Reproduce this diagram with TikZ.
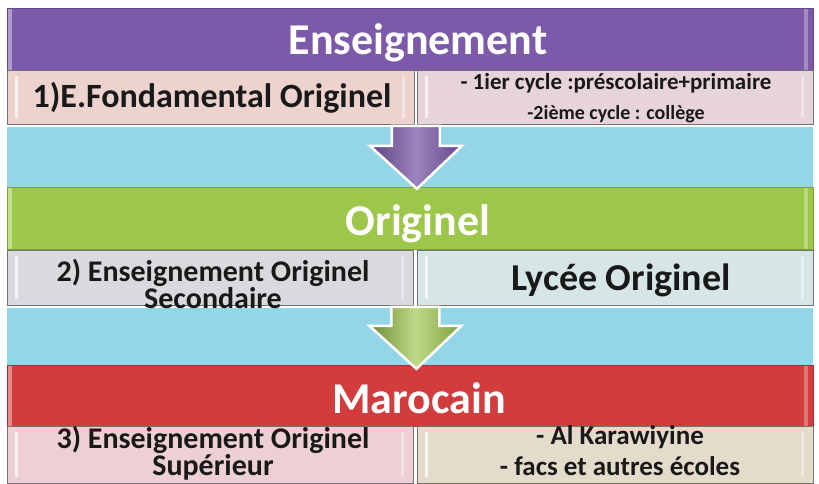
\documentclass[tikz,border=0pt]{standalone}
\usepackage{fontspec}
\setmainfont{Carlito}
\usetikzlibrary{calc}

\definecolor{ensPurple}{HTML}{7C5AA9}
\definecolor{origGreen}{HTML}{9CC74A}
\definecolor{marRed}{HTML}{D23C3C}
\definecolor{skyBlue}{HTML}{94D6E8}
\definecolor{rowPink}{HTML}{EDD3CE}
\definecolor{rowLilac}{HTML}{E7D3DC}
\definecolor{rowGrey}{HTML}{DAD9DD}
\definecolor{rowMint}{HTML}{D6E6E6}
\definecolor{rowRose}{HTML}{ECD0D3}
\definecolor{rowSand}{HTML}{E4DCCB}

\begin{document}
\begin{tikzpicture}[
    x=1pt, y=-1pt,
    band/.style={
        rectangle,
        anchor=north west,
        inner sep=0pt,
        draw=#1!80!black,
        fill=#1,
        minimum width=806pt,
        minimum height=62pt,
        path picture={
            \fill[white,opacity=.4] (path picture bounding box.north west) rectangle ([xshift=5pt]path picture bounding box.south west);
            \fill[white,opacity=.3] ([xshift=-9pt]path picture bounding box.north east) rectangle ([xshift=-5pt]path picture bounding box.south east);
        }
    },
    cell/.style={
        rectangle,
        anchor=north west,
        inner sep=0pt,
        draw=black!55,
        line width=.8pt,
        fill=#1,
        path picture={
            \fill[white,opacity=.7] ([xshift=8pt,yshift=-6pt]path picture bounding box.north west) rectangle ([xshift=11pt,yshift=6pt]path picture bounding box.south west);
            \fill[white,opacity=.4] ([xshift=-12pt,yshift=-6pt]path picture bounding box.north east) rectangle ([xshift=-9pt,yshift=6pt]path picture bounding box.south east);
        }
    },
    sky/.style={
        rectangle,
        anchor=north west,
        inner sep=0pt,
        fill=skyBlue,
        minimum width=806pt,
        minimum height=63pt,
        path picture={
            \fill[white] (path picture bounding box.north west) rectangle ([yshift=-3pt]path picture bounding box.north east);
        }
    },
    title/.style={
        font=\fontsize{44}{48}\selectfont\bfseries,
        text=white,
        anchor=base
    },
    celltext/.style={
        font=\fontsize{#1}{#1}\selectfont\bfseries,
        text=black!90,
        align=center
    },
    downarrow/.style n args={3}{
        draw=white,
        line width=2.5pt,
        left color=#1,
        right color=#3,
        middle color=#2
    }
]
\useasboundingbox (0,0) rectangle (819,484);

% Title bands
\node[band=ensPurple] (ens) at (7,8) {};
\node[band=origGreen] (orig) at (7,187) {};
\node[band=marRed, minimum height=61pt] (maroc) at (7,365) {};

% Sky strips between the levels
\node[sky] (gap1) at (7,124) {};
\node[sky, minimum height=60pt] (gap2) at (7,305) {};

% Level cells
\node[cell=rowPink, minimum width=407pt, minimum height=54pt] (fond) at (7,70) {};
\node[cell=rowLilac, minimum width=396pt, minimum height=54pt] (cycles) at (417,70) {};
\node[cell=rowGrey, minimum width=406pt, minimum height=55pt] (second) at (7,250) {};
\node[cell=rowMint, minimum width=396pt, minimum height=55pt] (lycee) at (417,250) {};
\node[cell=rowRose, minimum width=406pt, minimum height=57pt] (sup) at (7,426) {};
\node[cell=rowSand, minimum width=396pt, minimum height=57pt] (karaw) at (417,426) {};

% Titles
\node[title] (ens-t) at (418,55) {Enseignement};
\node[title] (orig-t) at (418,235) {Originel};
\node[title] (maroc-t) at (419,413) {Marocain};

% Cell texts
\node[celltext=34, anchor=base] (fond-t) at (212,108) {1)E.Fondamental Originel};
\node[celltext=23, font=\fontsize{23}{30}\selectfont\bfseries] (cycles-t) at (616,98) {- 1ier cycle :préscolaire+primaire\\\fontsize{20}{30}\selectfont -2ième cycle : collège};
\node[celltext=30, font=\fontsize{30}{25}\selectfont\bfseries] (second-t) at (213,284) {2) Enseignement Originel\\Secondaire};
\node[celltext=38, anchor=base] (lycee-t) at (621,290) {Lycée Originel};
\node[celltext=30, font=\fontsize{30}{24}\selectfont\bfseries] (sup-t) at (213,453) {3) Enseignement Originel\\Supérieur};
\node[celltext=27, font=\fontsize{27}{31}\selectfont\bfseries] (karaw-t) at (620,451) {- Al Karawiyine\\- facs et autres écoles};

% Arrows between the levels
\coordinate (drop1) at ($(fond.south east)!.5!(cycles.south west)$);
\coordinate (drop2) at ($(second.south east)!.5!(lycee.south west)$);
\filldraw[downarrow={ensPurple!75!black}{ensPurple!75!white}{ensPurple!80!black}, shift={(drop1)}]
    (-24,1) -- (-24,21) -- (-46,21) -- (1,64) -- (46,21) -- (24,21) -- (24,1) -- cycle;
\filldraw[downarrow={origGreen!70!black}{origGreen!65!white}{origGreen!80!black}, shift={(drop2)}]
    (-24,1) -- (-24,20) -- (-46,20) -- (1,63) -- (46,20) -- (24,20) -- (24,1) -- cycle;

\end{tikzpicture}
\end{document}
